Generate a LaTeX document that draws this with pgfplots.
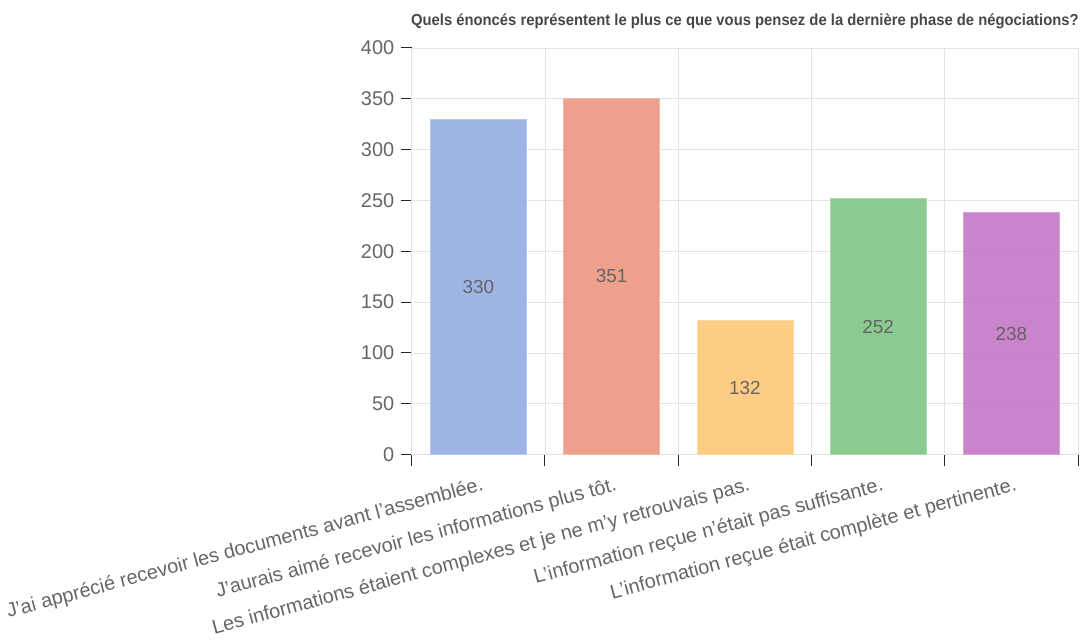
\documentclass[border=0pt]{standalone}
\usepackage{pgfplots}
\pgfplotsset{compat=1.18}
\usepackage{fontspec}
\setmainfont{Liberation Sans}
\newfontfamily\titlefont[FakeStretch=0.93]{Liberation Sans}
\definecolor{cblue}{HTML}{97B1E3}
\definecolor{csal}{HTML}{EC9B86}
\definecolor{corg}{HTML}{FDCA7F}
\definecolor{cgrn}{HTML}{86C88A}
\definecolor{cpur}{HTML}{C67DC8}
\definecolor{tickgray}{HTML}{666666}
\definecolor{gridgray}{HTML}{E3E3E3}
\begin{document}
\begin{tikzpicture}
\begin{axis}[
  width=667bp, height=407bp, scale only axis,
  xmin=-0.5, xmax=4.5, ymin=0, ymax=400,
  ytick={0,50,...,400},
  xtick={-0.5,0.5,...,4.5}, xticklabels={},
  extra x ticks={0,1,2,3,4},
  extra x tick labels={J’ai apprécié recevoir les documents avant l’assemblée.,J’aurais aimé recevoir les informations plus tôt.,Les informations étaient complexes et je ne m’y retrouvais pas.,L’information reçue n’était pas suffisante.,L’information reçue était complète et pertinente.},
  extra x tick style={major tick length=0pt, grid=none,
     tick label style={rotate=15, anchor=north east, xshift=0bp, yshift=-18bp, font=\fontsize{20}{20}\selectfont, text=tickgray}},
  xmajorgrids=true, ymajorgrids=true,
  grid style={gridgray, line width=0.9bp},
  axis lines*=left,
  axis line style={draw=gridgray, line width=1bp},
  tick align=outside,
  major tick length=11bp,
  tick style={black!85, line width=1bp},
  y tick label style={font=\fontsize{20}{20}\selectfont, text=tickgray, xshift=-3bp},
  /pgf/number format/assume math mode=true,
  ybar, bar width=0.72, bar shift=0pt,
  visualization depends on={y \as \rawy},
  nodes near coords,
  every node near coord/.append style={anchor=center, shift={(axis direction cs:0,-\rawy/2)}, font=\fontsize{19}{19}\selectfont, text=black!62},
  clip=false,
]
\addplot[fill=cblue, draw=cblue!70!white, fill opacity=0.95] coordinates {(0,330)};
\addplot[fill=csal, draw=csal!70!white, fill opacity=0.95] coordinates {(1,351)};
\addplot[fill=corg, draw=corg!70!white, fill opacity=0.95] coordinates {(2,132)};
\addplot[fill=cgrn, draw=cgrn!70!white, fill opacity=0.95] coordinates {(3,252)};
\addplot[fill=cpur, draw=cpur!70!white, fill opacity=0.95] coordinates {(4,238)};
\end{axis}
\node[anchor=base, text=black!72, font=\titlefont\bfseries\fontsize{16}{16}\selectfont] at ([yshift=22bp]current axis.north) {Quels énoncés représentent le plus ce que vous pensez de la dernière phase de négociations?};
\path[use as bounding box] ([shift={(-412bp,-187bp)}]current axis.south west) rectangle ([shift={(3bp,48bp)}]current axis.north east);
\end{tikzpicture}
\end{document}
